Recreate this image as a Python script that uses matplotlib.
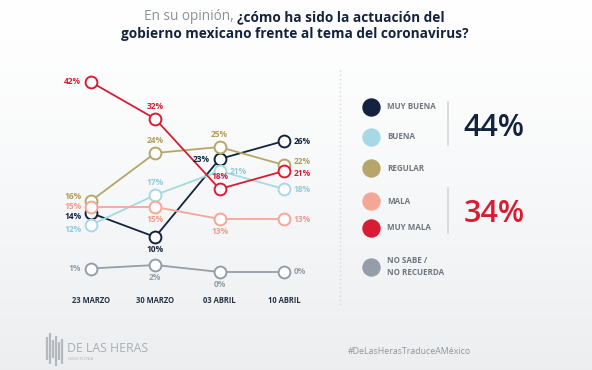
import numpy as np
import matplotlib
matplotlib.use('Agg')
import matplotlib.pyplot as plt

plt.rcParams['font.family'] = ['Open Sans', 'DejaVu Sans']

# survey data
dates = ['23 MARZO', '30 MARZO', '03 ABRIL', '10 ABRIL']
categories = ['MUY BUENA', 'BUENA', 'REGULAR', 'MALA', 'MUY MALA', 'NO SABE /\nNO RECUERDA']
muy_buena = [14, 10, 23, 26]
buena = [12, 17, 21, 18]
regular = [16, 24, 25, 22]
mala = [15, 15, 13, 13]
muy_mala = [42, 32, 18, 21]
no_sabe = [1, 2, 0, 0]

series = [muy_buena, buena, regular, mala, muy_mala, no_sabe]
colors = ['#14233d', '#a7d9e4', '#b6a66c', '#f4a697', '#d71d33', '#959ea8']
label_colors = ['#14233d', '#8fcbd8', '#b09d5c', '#f09a8a', '#d71d33', '#959ea8']
# where each value label sits relative to its point: l, r, a (above), b (below)
label_pos = [
    ['l', 'b', 'l', 'r'],
    ['l', 'a', 'r', 'r'],
    ['l', 'a', 'a', 'r'],
    ['l', 'b', 'b', 'r'],
    ['l', 'a', 'a', 'r'],
    ['l', 'b', 'b', 'r'],
]
# small vertical nudges (points) for crowded labels
nudge = [
    [-2.5, 0, 0, 0],
    [-3.5, 0, 0, 0],
    [3.5, 0, 0, 2.5],
    [0.5, 0, 0, 0],
    [0, 0, 0, -2],
    [0, 0, 0, 0],
]
draw_order = [5, 3, 1, 2, 4, 0]

# the infographic stretches the middle of the percentage range
scale_vals = [-10, 0, 10, 26, 42, 60]
scale_pos = [-35, 0, 35, 131, 190, 256.6]


def fwd(v):
    return np.interp(v, scale_vals, scale_pos)


def inv(p):
    return np.interp(p, scale_pos, scale_vals)


W, H = 592, 370
fig = plt.figure(figsize=(W / 100, H / 100), dpi=100)

# background + decoration layer in pixel coords
bg = fig.add_axes([0, 0, 1, 1])
grad = np.linspace(0, 1, 256)[:, None]
top = np.array([1.0, 1.0, 1.0])
bot = np.array([0.925, 0.933, 0.941])
img = top + (bot - top) * grad[:, :, None] ** 1.3
bg.imshow(img, extent=[0, W, H, 0], aspect='auto', zorder=0)
bg.set_xlim(0, W)
bg.set_ylim(H, 0)
bg.axis('off')

# title (two styles on first line)
r = fig.canvas.get_renderer()
t_a = bg.text(0, 17, 'En su opinión, ', fontsize=9.8, color='#8a9097', va='center', ha='left')
t_b = bg.text(0, 17, '¿cómo ha sido la actuación del', fontsize=9.8, color='#14233d',
              fontweight='bold', va='center', ha='left')
wa = t_a.get_window_extent(r).width
wb = t_b.get_window_extent(r).width
x0 = 294 - (wa + wb) / 2
t_a.set_x(x0)
t_b.set_x(x0 + wa)
bg.text(295, 34, 'gobierno mexicano frente al tema del coronavirus?', fontsize=9.8,
        color='#14233d', fontweight='bold', va='center', ha='center')

# dotted separator
bg.plot([340, 340], [70, 305], color='#d5d9dd', lw=1, ls=(0, (1, 2)), zorder=1)

# legend
leg_y = [106.7, 136.7, 168.3, 201, 227.7, 266.7]
for c, name, y in zip(colors, categories, leg_y):
    bg.scatter([371], [y], s=150, color=c, zorder=3)
    bg.text(387, y, name, fontsize=5.8, color='#6f767d', fontweight='bold',
            va='center', ha='left', linespacing=1.5)

bg.plot([448, 448], [102, 145], color='#d3d7db', lw=1.2)
bg.plot([448, 448], [188, 233], color='#d3d7db', lw=1.2)
pos_total = muy_buena[-1] + buena[-1]
neg_total = mala[-1] + muy_mala[-1]
bg.text(494, 128, f'{pos_total}%', fontsize=22, color='#14233d', ha='center', va='center',
        fontweight='semibold')
bg.text(494, 214, f'{neg_total}%', fontsize=22, color='#d71d33', ha='center', va='center',
        fontweight='semibold')

# footer logo (simplified bars) and hashtag
bar_x = [47, 50, 53, 56, 59, 62]
bar_top = [337, 333, 340, 336, 342, 339]
bar_bot = [360, 364, 358, 366, 360, 364]
for bx, bt, bb in zip(bar_x, bar_top, bar_bot):
    bg.plot([bx, bx], [bt, bb], color='#b4b9be', lw=1.6, solid_capstyle='butt')
bg.text(67, 349, 'DE LAS HERAS', fontsize=8.8, color='#a8aeb4', va='center', ha='left')
bg.text(68, 359, 'DEMOTECNIA', fontsize=3.0, color='#b4b9be', va='center', ha='left')
bg.text(409, 352, '#DeLasHerasTraduceAMéxico', fontsize=6.3, color='#8e959c',
        va='center', ha='center')

# line chart
ax = fig.add_axes([40 / W, 1 - 290 / H, 280 / W, 220 / H])
ax.patch.set_alpha(0)
ax.set_yscale('function', functions=(fwd, inv))
x = np.arange(len(dates))
for i in draw_order:
    vals = series[i]
    ax.plot(x, vals, color=colors[i], lw=1.3, marker='o', ms=8.5, mfc='white',
            mec=colors[i], mew=1.4, zorder=2 + i * 0.1)
    for xi, v, p, n in zip(x, vals, label_pos[i], nudge[i]):
        off = {'l': (-7, 0), 'r': (7, 0), 'a': (0, 6), 'b': (0, -6)}[p]
        ha = {'l': 'right', 'r': 'left', 'a': 'center', 'b': 'center'}[p]
        va = {'l': 'center', 'r': 'center', 'a': 'bottom', 'b': 'top'}[p]
        ax.annotate(f'{v}%', (xi, v), xytext=(off[0], off[1] + n), textcoords='offset points',
                    ha=ha, va=va, fontsize=6, fontweight='bold', color=label_colors[i],
                    zorder=5)

ax.set_xlim(-0.79, 3.56)
ax.set_ylim(inv(-18), inv(202))
ax.set_xticks(x)
ax.set_xticklabels(dates, fontsize=5.5, fontweight='bold', color='#2a3444')
ax.tick_params(axis='x', length=0, pad=4)
ax.set_yticks([])
ax.minorticks_off()
for s in ax.spines.values():
    s.set_visible(False)

fig.savefig('out.png', dpi=100)
